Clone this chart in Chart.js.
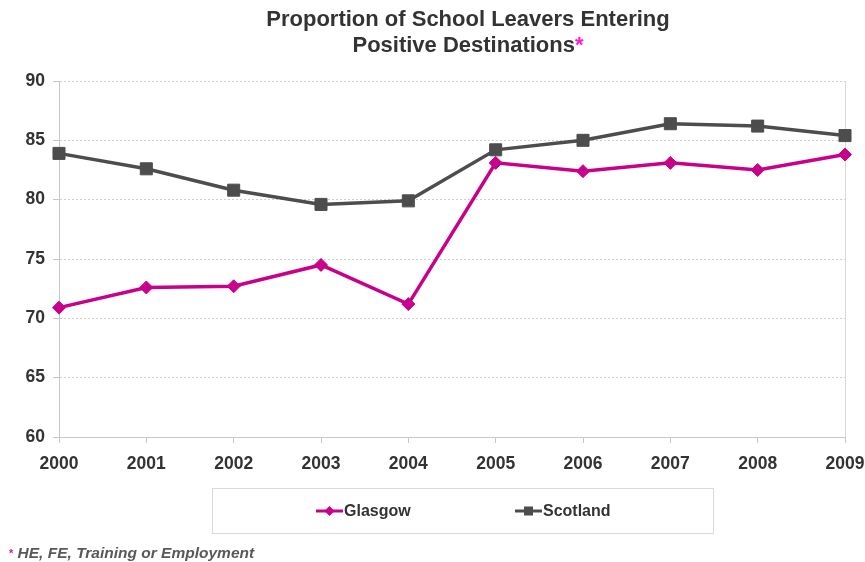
<!DOCTYPE html>
<html>
<head>
<meta charset="utf-8">
<script src="https://cdn.jsdelivr.net/npm/chart.js@4.4.0/dist/chart.umd.min.js"></script>
<style>
body{margin:0;background:#fff;font-family:"Liberation Sans",Arial,sans-serif;}
#wrap{position:relative;width:865px;height:562px;}
#title{position:absolute;left:168px;width:600px;top:6px;text-align:center;font-weight:bold;font-size:22px;line-height:26px;color:#333;}
#title .star{color:#ff1acb}
#note{position:absolute;left:9px;top:544px;font-weight:bold;font-style:italic;font-size:15.5px;line-height:18px;color:#595959;}
#note .star{color:#e0109a;font-size:11px;vertical-align:top;font-style:normal}
canvas{position:absolute;left:0;top:0;}
</style>
</head>
<body>
<div id="wrap">
  <canvas id="myChart" width="865" height="562"></canvas>
  <div id="title">Proportion of School Leavers Entering<br>Positive Destinations<span class="star">*</span></div>
  <div id="note"><span class="star">*</span> HE, FE, Training or Employment</div>
</div>
<script>
const years = ['2000','2001','2002','2003','2004','2005','2006','2007','2008','2009']
const glasgow = [70.9, 72.6, 72.7, 74.5, 71.2, 83.1, 82.4, 83.1, 82.5, 83.8]
const scotland = [83.9, 82.6, 80.8, 79.6, 79.9, 84.2, 85.0, 86.4, 86.2, 85.4]
const yticks = [60, 65, 70, 75, 80, 85, 90]

const pink = '#c8008a'
const grey = '#4d4d4d'
const font = '"Liberation Sans", Arial, sans-serif'

// legend drawn in a box under the plot, like the original
const legendBox = {
    id: 'legendBox',
    afterDraw(chart) {
        const ctx = chart.ctx
        const x0 = 212, y0 = 488, w = 501, h = 45
        const cy = y0 + h / 2 + 0.5
        const starts = [316, 515]
        ctx.save()
        ctx.strokeStyle = '#d9d9d9'
        ctx.lineWidth = 1
        ctx.strokeRect(x0 + 0.5, y0 + 0.5, w, h)
        chart.data.datasets.forEach((ds, i) => {
            const lx = starts[i]
            const mx = lx + 13.5
            ctx.strokeStyle = ds.borderColor
            ctx.fillStyle = ds.borderColor
            ctx.lineWidth = 3
            ctx.beginPath()
            ctx.moveTo(lx, cy)
            ctx.lineTo(lx + 27, cy)
            ctx.stroke()
            ctx.beginPath()
            if (ds.pointStyle === 'rectRot') {
                ctx.moveTo(mx, cy - 5)
                ctx.lineTo(mx + 5, cy)
                ctx.lineTo(mx, cy + 5)
                ctx.lineTo(mx - 5, cy)
                ctx.closePath()
            } else {
                ctx.rect(mx - 4.5, cy - 4.5, 9, 9)
            }
            ctx.fill()
            ctx.fillStyle = '#333'
            ctx.font = 'bold 16px ' + font
            ctx.textBaseline = 'middle'
            ctx.fillText(ds.label, lx + 28, cy + 1)
        })
        ctx.restore()
    }
}

new Chart("myChart", {
    type: "line",
    data: {
        labels: years,
        datasets: [{
            label: "Glasgow",
            data: glasgow,
            borderColor: pink,
            backgroundColor: pink,
            pointBackgroundColor: pink,
            pointBorderColor: pink,
            pointStyle: 'rectRot',
            pointRadius: 6.5,
            pointBorderWidth: 1,
            borderWidth: 3.5,
            fill: false,
            tension: 0
        },
        {
            label: "Scotland",
            data: scotland,
            borderColor: grey,
            backgroundColor: grey,
            pointBackgroundColor: grey,
            pointBorderColor: grey,
            pointStyle: 'rect',
            pointRadius: 8.5,
            pointBorderWidth: 1,
            borderWidth: 3.5,
            fill: false,
            tension: 0
        }]
    },
    options: {
        responsive: false,
        animation: false,
        layout: {padding: {top: 81, left: 0, right: 20, bottom: 85}},
        plugins: {
            legend: {display: false},
            title: {display: false},
            tooltip: {enabled: false}
        },
        scales: {
            x: {
                offset: false,
                grid: {
                    color: c => c.index === years.length - 1 ? '#d9d9d9' : 'rgba(0,0,0,0)',
                    tickColor: '#c8c8c8',
                    tickLength: 6
                },
                border: {color: '#c8c8c8'},
                ticks: {
                    color: '#333',
                    font: {family: font, size: 17.5, weight: 'bold'},
                    padding: 11,
                    maxRotation: 0,
                    autoSkip: false
                },
                afterFit(s) {
                    s.height = 40
                    s.paddingLeft = 0
                    s.paddingRight = 0
                }
            },
            y: {
                min: yticks[0],
                max: yticks[yticks.length - 1],
                afterBuildTicks(s) { s.ticks = yticks.map(v => ({value: v})) },
                grid: {color: '#cfcfcf', tickColor: '#c8c8c8', tickLength: 6},
                border: {color: '#c8c8c8', dash: [2, 2]},
                ticks: {
                    color: '#333',
                    font: {family: font, size: 17.5, weight: 'bold'},
                    padding: 8
                },
                afterFit(s) { s.width = 59 }
            }
        }
    },
    plugins: [legendBox]
});
</script>
</body>
</html>
